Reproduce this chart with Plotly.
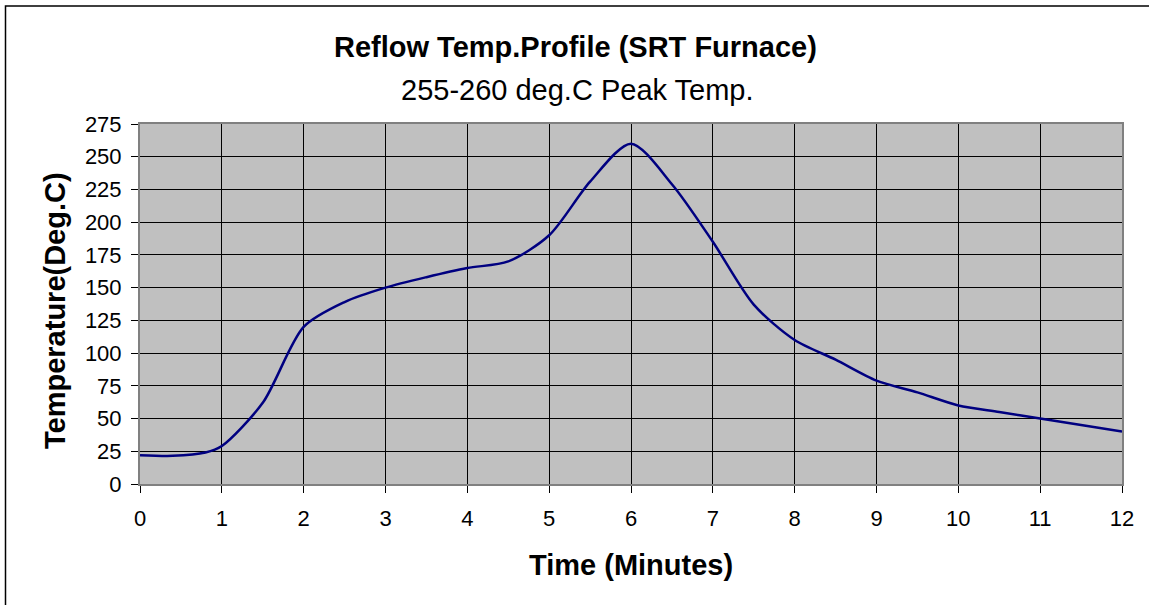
import plotly.graph_objects as go

time_min = [0, 0.4, 0.8, 1, 1.5, 2, 2.5, 3, 3.5, 4, 4.5, 5, 5.5, 6, 6.5, 7, 7.5, 8, 8.5, 9, 9.5, 10, 10.5, 11, 11.5, 12]
temp_c = [22, 21.5, 24, 29, 62, 120, 139, 150, 158, 165, 170, 190, 231, 260, 229, 185, 137, 110, 95, 79, 70, 60, 55, 50, 45, 40]
x_ticks = list(range(0, 13))
y_ticks = list(range(0, 276, 25))

title_text = "Reflow Temp.Profile (SRT Furnace)"
subtitle_text = "255-260 deg.C Peak Temp."
x_title = "Time (Minutes)"
y_title = "Temperature(Deg.C)"

FONT = "Arial, 'Liberation Sans', sans-serif"

L, R, T, B = 140, 1122, 124, 484
W, H = 1149, 605

def px_x(p):
    return (p - L) / (R - L)

def px_y(p):
    return (B - p) / (B - T)

fig = go.Figure()
fig.add_trace(go.Scatter(
    x=time_min, y=temp_c, mode="lines",
    line=dict(color="#000080", width=2.5, shape="spline", smoothing=0.8),
    showlegend=False, hoverinfo="x+y",
))

fig.update_layout(
    width=W, height=H,
    margin=dict(l=L, r=W - R, t=T, b=H - B, pad=0),
    paper_bgcolor="white",
    plot_bgcolor="#C0C0C0",
    font=dict(family=FONT, color="black", size=22),
    showlegend=False,
)

fig.update_xaxes(
    range=[0, 12], tickmode="array", tickvals=x_ticks,
    ticktext=[str(v) for v in x_ticks],
    showgrid=True, gridcolor="black", gridwidth=1,
    ticks="outside", ticklen=7, tickcolor="black", tickwidth=1,
    showline=True, linecolor="#808080", linewidth=2, mirror=True,
    zeroline=False, ticklabelstandoff=7,
    tickfont=dict(size=22, family=FONT, color="black"),
)
fig.update_yaxes(
    range=[0, 275], tickmode="array", tickvals=y_ticks,
    ticktext=[str(v) for v in y_ticks],
    showgrid=True, gridcolor="black", gridwidth=1,
    ticks="outside", ticklen=7, tickcolor="black", tickwidth=1,
    showline=True, linecolor="#808080", linewidth=2, mirror=True,
    zeroline=False, ticklabelstandoff=5,
    tickfont=dict(size=22, family=FONT, color="black"),
)

annotations = [
    dict(text="<b>" + title_text + "</b>", x=px_x(575), y=px_y(47), xref="paper", yref="paper",
         showarrow=False, xanchor="center", yanchor="middle", font=dict(size=29, family=FONT, color="black")),
    dict(text=subtitle_text, x=px_x(577), y=px_y(90), xref="paper", yref="paper",
         showarrow=False, xanchor="center", yanchor="middle", font=dict(size=29, family=FONT, color="black")),
    dict(text="<b>" + x_title + "</b>", x=px_x(631), y=px_y(565), xref="paper", yref="paper",
         showarrow=False, xanchor="center", yanchor="middle", font=dict(size=29, family=FONT, color="black")),
    dict(text="<b>" + y_title + "</b>", x=px_x(55), y=px_y(311), xref="paper", yref="paper",
         showarrow=False, xanchor="center", yanchor="middle", textangle=-90,
         font=dict(size=29, family=FONT, color="black")),
]
fig.update_layout(annotations=annotations)

# outer chart border (left and top visible)
fig.add_shape(type="rect", xref="paper", yref="paper",
              x0=px_x(5.5), x1=px_x(1160), y0=px_y(6), y1=px_y(620),
              line=dict(color="black", width=1.5), fillcolor="rgba(0,0,0,0)", layer="above")

fig.write_html("out.html", config={"displayModeBar": False},
               post_script="document.body.style.margin='0';")
